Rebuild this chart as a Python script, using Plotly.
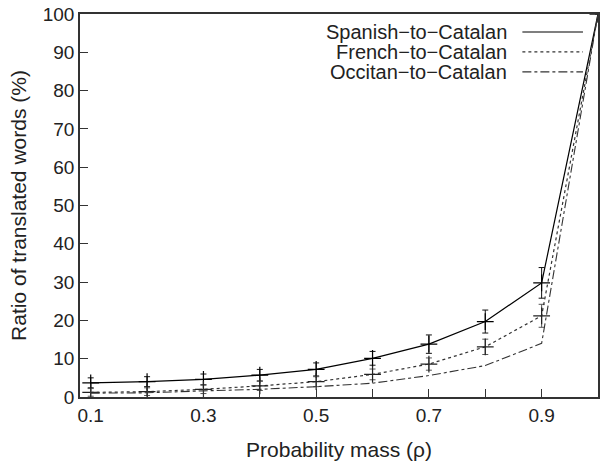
import plotly.graph_objects as go

rho = [0.1, 0.2, 0.3, 0.4, 0.5, 0.6, 0.7, 0.8, 0.9, 1.0]
spanish = [3.7, 4.0, 4.6, 5.7, 7.2, 10.1, 13.8, 19.7, 29.8, 100]
spanish_err = [1.3, 1.3, 1.4, 1.5, 1.7, 1.8, 2.4, 3.0, 4.0, 0]
french = [1.2, 1.4, 2.0, 2.9, 4.0, 5.9, 8.6, 13.1, 21.2, 100]
french_err = [1.0, 1.0, 1.1, 1.2, 1.3, 1.4, 1.6, 2.0, 3.0, 0]
occitan = [1.0, 1.1, 1.6, 2.0, 2.7, 3.6, 5.6, 8.2, 14.0, 100]

series_names = ["Spanish\u2212to\u2212Catalan", "French\u2212to\u2212Catalan", "Occitan\u2212to\u2212Catalan"]
series_dash = ["solid", "dot", "dashdot"]

x_tickvals = [0.1, 0.2, 0.3, 0.4, 0.5, 0.6, 0.7, 0.8, 0.9, 1.0]
x_ticktext = ["0.1", "", "0.3", "", "0.5", "", "0.7", "", "0.9", ""]
y_tickvals = [0, 10, 20, 30, 40, 50, 60, 70, 80, 90, 100]

fig = go.Figure()
fig.add_trace(go.Scatter(
    x=rho, y=spanish, name=series_names[0], mode="lines+markers",
    line=dict(color="black", width=1.2, dash=series_dash[0]),
    marker=dict(symbol="cross-thin", size=12, line=dict(color="black", width=1.2)),
    error_y=dict(type="data", array=spanish_err, color="#111111", thickness=1, width=3),
))
fig.add_trace(go.Scatter(
    x=rho, y=french, name=series_names[1], mode="lines+markers",
    line=dict(color="#333333", width=1.2, dash=series_dash[1]),
    marker=dict(symbol="cross-thin", size=12, line=dict(color="#222222", width=1.2)),
    error_y=dict(type="data", array=french_err, color="#555555", thickness=1, width=3),
))
fig.add_trace(go.Scatter(
    x=rho, y=occitan, name=series_names[2], mode="lines",
    line=dict(color="#333333", width=1.1, dash=series_dash[2]),
))

# gnuplot-style key: text on the left, line sample on the right
key_y = [0.953, 0.901, 0.849]
key_colors = ["black", "#333333", "#333333"]
for name, dash, yy, col in zip(series_names, series_dash, key_y, key_colors):
    fig.add_annotation(x=0.829, y=yy, xref="paper", yref="paper", text=name,
                       showarrow=False, xanchor="right", yanchor="middle",
                       font=dict(size=20, color="#222222"))
    fig.add_shape(type="line", xref="paper", yref="paper",
                  x0=0.854, x1=0.971, y0=yy, y1=yy,
                  line=dict(color=col, width=1.2, dash=dash))

fig.update_layout(
    width=604, height=463,
    margin=dict(l=80, r=4, t=14, b=66),
    plot_bgcolor="white", paper_bgcolor="white",
    font=dict(family="Liberation Sans, Arial, sans-serif", size=19, color="#222222"),
    showlegend=False,
    xaxis=dict(range=[0.081, 1.0], tickvals=x_tickvals, ticktext=x_ticktext,
               ticks="inside", ticklen=8, tickcolor="#333333", showgrid=False,
               showline=True, linecolor="#333333", linewidth=1.5, mirror=True,
               zeroline=False, tickfont=dict(size=19),
               title=dict(text="Probability mass (\u03c1)", font=dict(size=21), standoff=18)),
    yaxis=dict(range=[0, 100], tickvals=y_tickvals, ticks="inside", ticklen=8,
               tickcolor="#333333", showgrid=False,
               showline=True, linecolor="#333333", linewidth=1.5, mirror=True,
               zeroline=False, tickfont=dict(size=19),
               title=dict(text="Ratio of translated words (%)", font=dict(size=21), standoff=10)),
)

fig.write_html("out.html")
